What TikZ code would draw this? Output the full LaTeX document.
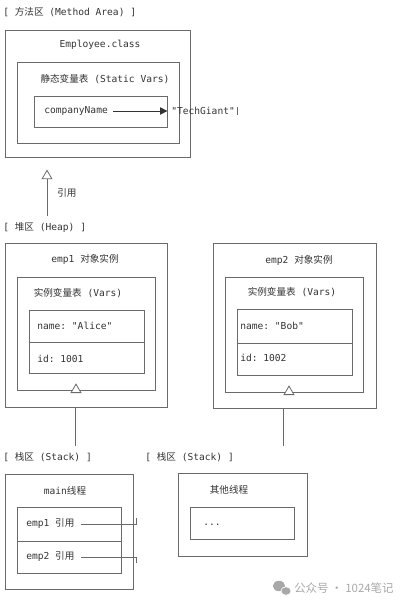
\documentclass[tikz,border=0pt]{standalone}
\usepackage{fontspec}
\usepackage{tikz}
\usetikzlibrary{arrows.meta,shapes,fit}
\setmonofont{DejaVu Sans Mono}
\newfontfamily\zhfont{Noto Sans CJK SC}
\newcommand{\zh}[1]{{\zhfont #1}}
\newcommand{\lws}{0.6pt}
\definecolor{boxc}{HTML}{6A6A6A}
\definecolor{txtc}{HTML}{333333}
\definecolor{wmc}{HTML}{A8A8A8}

\begin{document}
\begin{tikzpicture}[x=0.75pt,y=-0.75pt]
  %\draw[help lines] (0,0) grid (406,604);
  \tikzset{
    area/.style = {draw=boxc, line width=\lws, inner sep=0pt},
    lbl/.style = {text=txtc, inner sep=0pt, font=\ttfamily\fontsize{7.2}{8}\selectfont},
    lblw/.style = {lbl, anchor=west},
    wire/.style = {draw=boxc, line width=\lws},
    uptip/.style = {draw=boxc, fill=white, line width=\lws, regular polygon, regular polygon sides=3, inner sep=0pt, minimum size=8.5pt}
  }
  \useasboundingbox (0,0) rectangle (406,604);

  % method area
  \node[lblw] (mLbl) at (3,12) {[ \zh{方法区} (Method Area) ]};
  \node[area, fit={(5,30) (190,157)}] (mBox) {};
  \node[lbl] (mTitle) at (100,45) {Employee.class};
  \node[area, fit={(17,62) (179,143)}] (mVars) {};
  \node[lbl] (mVarsLbl) at (105,79) {\zh{静态变量表} (Static Vars)};
  \node[area, fit={(34,96) (167,127)}] (mField) {};
  \node[lblw] (cName) at (44,111) {companyName};
  \node[lblw] (tGiant) at (171,111) {"TechGiant"};
  \draw[wire, draw=txtc, -{Triangle[length=5.5pt,width=5.5pt]}] ([xshift=4pt]cName.east) -- (mField.east |- cName);
  \draw[wire] ([xshift=2pt]tGiant.north east) -- ([xshift=2pt]tGiant.south east);

  % reference up to method area
  \node[uptip] (mTip) at (47,176) {};
  \coordinate (mFoot) at (47,216);
  \draw[wire] (mTip.south) -- (mFoot);
  \node[lblw] (mRef) at (57,193) {\zh{引用}};

  % heap
  \node[lblw] (hLbl) at (3,227) {[ \zh{堆区} (Heap) ]};

  \node[area, fit={(5,243) (167,407)}] (e1Box) {};
  \node[lbl] (e1Title) at (85,259) {emp1 \zh{对象实例}};
  \node[area, fit={(17,277) (155,390)}] (e1Vars) {};
  \node[lbl] (e1VarsLbl) at (78,293) {\zh{实例变量表} (Vars)};
  \node[area, fit={(29,310) (144,373)}] (e1Field) {};
  \draw[wire] (e1Field.west |- 0,342) -- (e1Field.east |- 0,342);
  \node[lblw] (e1Name) at (37,326) {name: "Alice"};
  \node[lblw] (e1Id) at (37,359) {id: 1001};
  \node[uptip, anchor=south] (e1Tip) at (76,393) {};
  \coordinate (e1Foot) at (75,446);
  \draw[wire] (e1Box.south -| e1Foot) -- (e1Foot);

  \node[area, fit={(213,243) (376,408)}] (e2Box) {};
  \node[lbl] (e2Title) at (299,260) {emp2 \zh{对象实例}};
  \node[area, fit={(225,277) (363,392)}] (e2Vars) {};
  \node[lbl] (e2VarsLbl) at (292,292) {\zh{实例变量表} (Vars)};
  \node[area, fit={(237,309) (352,375)}] (e2Field) {};
  \draw[wire] (e2Field.west |- 0,343) -- (e2Field.east |- 0,343);
  \node[lblw] (e2Name) at (240,326) {name: "Bob"};
  \node[lblw] (e2Id) at (240,358) {id: 1002};
  \node[uptip, anchor=south] (e2Tip) at (289,395) {};
  \coordinate (e2Foot) at (283,446);
  \draw[wire] (e2Box.south -| e2Foot) -- (e2Foot);

  % stack: main thread
  \node[lblw] (sLbl) at (3,457) {[ \zh{栈区} (Stack) ]};
  \node[area, fit={(5,474) (133,589)}] (sMain) {};
  \node[lbl] (sMainTitle) at (65,491) {main\zh{线程}};
  \node[area, fit={(17,507) (121,573)}] (sRefs) {};
  \draw[wire] (sRefs.west |- 0,541) -- (sRefs.east |- 0,541);
  \node[lblw] (r1) at (26,524) {emp1 \zh{引用}};
  \node[lblw] (r2) at (26,557) {emp2 \zh{引用}};
  \coordinate (r1End) at (136,518);
  \coordinate (r2End) at (136,563);
  \draw[wire] ([xshift=5pt]r1.east) -- (r1 -| r1End) -- (r1End);
  \draw[wire] ([xshift=5pt]r2.east) -- (r2 -| r2End) -- (r2End);

  % stack: other threads
  \node[lblw] (oLbl) at (145,457) {[ \zh{栈区} (Stack) ]};
  \node[area, fit={(178,473) (307,556)}] (sOther) {};
  \node[lbl] (sOtherTitle) at (229,490) {\zh{其他线程}};
  \node[area, fit={(190,507) (294,539)}] (sDots) {};
  \node[lblw] (dots) at (203,525) {...};

  % watermark
  \fill[wmc] (279,586) ellipse (4.6pt and 3.9pt);
  \fill[wmc, draw=white, line width=0.5pt] (286,591) ellipse (3.8pt and 3.2pt);
  \node[anchor=west, inner sep=0pt, text=wmc, font=\zhfont\fontsize{8.6}{10}\selectfont] (wm) at (294,588) {公众号 · 1024笔记};
\end{tikzpicture}
\end{document}
